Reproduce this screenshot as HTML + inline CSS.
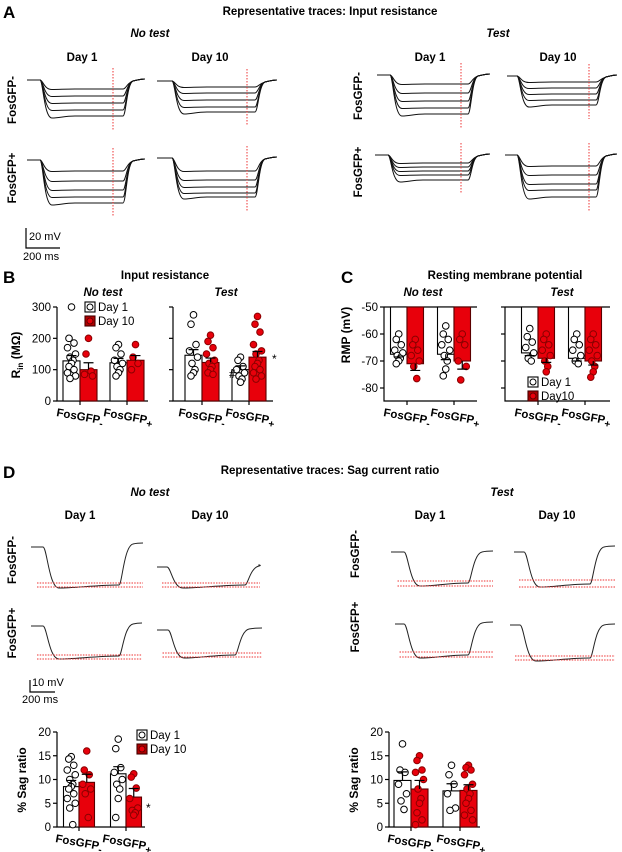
<!DOCTYPE html>
<html><head><meta charset="utf-8"><style>
html,body{margin:0;padding:0;background:#fff;}
svg{display:block;font-family:"Liberation Sans",Arial,sans-serif;}
</style></head><body>
<svg id="fig" width="622" height="852" viewBox="0 0 622 852" xmlns="http://www.w3.org/2000/svg">
<g font-weight="bold" fill="#000">
<text x="3" y="18" font-size="17">A</text>
<text x="330" y="15" font-size="11.5" text-anchor="middle">Representative traces: Input resistance</text>
<text x="150" y="37" font-size="11.5" font-style="italic" text-anchor="middle">No test</text>
<text x="498" y="37" font-size="11.5" font-style="italic" text-anchor="middle">Test</text>
<text x="82" y="61" font-size="11.5" text-anchor="middle">Day 1</text>
<text x="210" y="61" font-size="11.5" text-anchor="middle">Day 10</text>
<text x="430" y="61" font-size="11.5" text-anchor="middle">Day 1</text>
<text x="558" y="61" font-size="11.5" text-anchor="middle">Day 10</text>
<text transform="translate(16,100) rotate(-90)" font-size="11.5" text-anchor="middle">FosGFP-</text>
<text transform="translate(16,178) rotate(-90)" font-size="11.5" text-anchor="middle">FosGFP+</text>
<text transform="translate(362,96) rotate(-90)" font-size="11.5" text-anchor="middle">FosGFP-</text>
<text transform="translate(362,172) rotate(-90)" font-size="11.5" text-anchor="middle">FosGFP+</text>

<text x="3" y="283" font-size="17">B</text>
<text x="165" y="279" font-size="11.5" text-anchor="middle">Input resistance</text>
<text x="103" y="296" font-size="11.5" font-style="italic" text-anchor="middle">No test</text>
<text x="226" y="296" font-size="11.5" font-style="italic" text-anchor="middle">Test</text>

<text x="341" y="283" font-size="17">C</text>
<text x="505" y="279" font-size="11.5" text-anchor="middle">Resting membrane potential</text>
<text x="423" y="296" font-size="11.5" font-style="italic" text-anchor="middle">No test</text>
<text x="562" y="296" font-size="11.5" font-style="italic" text-anchor="middle">Test</text>

<text x="3" y="478" font-size="17">D</text>
<text x="330" y="474" font-size="11.5" text-anchor="middle">Representative traces: Sag current ratio</text>
<text x="150" y="496" font-size="11.5" font-style="italic" text-anchor="middle">No test</text>
<text x="502" y="496" font-size="11.5" font-style="italic" text-anchor="middle">Test</text>
<text x="80" y="519" font-size="11.5" text-anchor="middle">Day 1</text>
<text x="210" y="519" font-size="11.5" text-anchor="middle">Day 10</text>
<text x="430" y="519" font-size="11.5" text-anchor="middle">Day 1</text>
<text x="557" y="519" font-size="11.5" text-anchor="middle">Day 10</text>
<text transform="translate(16,560) rotate(-90)" font-size="11.5" text-anchor="middle">FosGFP-</text>
<text transform="translate(16,633) rotate(-90)" font-size="11.5" text-anchor="middle">FosGFP+</text>
<text transform="translate(359,554) rotate(-90)" font-size="11.5" text-anchor="middle">FosGFP-</text>
<text transform="translate(359,627) rotate(-90)" font-size="11.5" text-anchor="middle">FosGFP+</text>
</g>
<g font-size="11" fill="#000" stroke="none">
<path d="M26 228 V248 H60" stroke="#000" stroke-width="1.2" fill="none"/>
<text x="29" y="240">20 mV</text>
<text x="23" y="260">200 ms</text>
<path d="M30 680 V692 H55" stroke="#000" stroke-width="1.2" fill="none"/>
<text x="32" y="686">10 mV</text>
<text x="22" y="703">200 ms</text>
</g>
<g id="traces"></g>
<g id="charts"></g>
</svg>
<script>
// ---- Panel B data (MΩ) ----
const bNoTestMeans=[128,100,122,130];
const bNoTestErr=[17,22,14,15];
const bNoTestPts=[[300,200,185,170,150,140,130,120,110,100,90,80,72],[200,150,95,85,80],[180,170,150,130,120,110,100,90,80],[180,140,120,100]];
const bTestMeans=[146,123,100,140];
const bTestErr=[18,14,12,18];
const bTestPts=[[275,245,180,160,140,120,100,90,80],[210,190,170,150,130,120,110,100,90,85],[140,130,110,100,90,80,70,60],[270,245,220,180,160,150,130,120,110,100,90,80,70]];
const bTicks=[0,100,200,300];
// ---- Panel C data (mV) ----
const cNoTestMeans=[-67.5,-71,-67.5,-70];
const cNoTestErr=[1,2.5,2,3];
const cNoTestPts=[[-60,-62,-64,-66,-67,-68,-69,-70,-71],[-62,-64,-66,-68,-70,-72,-76.5],[-57,-60,-62,-64,-66,-68,-70,-73,-75.5],[-60,-62,-64,-70,-72,-77]];
const cTestMeans=[-67,-69,-69,-70];
const cTestErr=[1,1.5,1,1.5];
const cTestPts=[[-58,-61,-63,-65,-67,-69,-70],[-60,-62,-64,-66,-68,-70,-72,-74],[-60,-62,-64,-66,-68,-70,-71],[-60,-62,-64,-66,-68,-70,-72,-74,-76]];
const cTicks=[-50,-60,-70,-80];
// ---- Panel D data (% sag) ----
const dNoTestMeans=[8.5,9.4,11.2,6.3];
const dNoTestErr=[1.3,1.7,1.5,1.8];
const dNoTestPts=[[14.8,14.3,13,12,11,10,9,8.5,8,7,6,5,4,0.5],[16,12,11,9,8,7,2],[18.5,16.5,12.5,11.5,10,9,8,6,2],[11.2,10.5,8.2,6,4,3.5,3,2.5]];
const dTestMeans=[9.8,8.0,7.6,7.7];
const dTestErr=[1.8,1.8,1.5,1.2];
const dTestPts=[[17.5,12,11.5,9,7,5.5,3.7],[15,14,12,11.5,10,8,6,5,3,1.5,0.5],[13,11,9,7,4,3.5],[13,12.5,12,11,9,8,7,6,5,3.5,2.5,1.5]];
const dTicks=[0,5,10,15,20];
const groupLabels=["FosGFP","FosGFP"];
const groupSubs=["-","+"];

const NS="http://www.w3.org/2000/svg";
function mk(tag,attrs,parent){const e=document.createElementNS(NS,tag);for(const k in attrs)e.setAttribute(k,attrs[k]);parent.appendChild(e);return e;}
const charts=document.getElementById('charts');

function chart(o,means,errs,pts,ticks,nm){
  const g=mk('g',{},charts);
  
  
  const y=v=>o.y0-(v-o.v0)*o.k;
  const topY=Math.min(...ticks.map(y));
  const ax=mk('path',{d:`M${o.ax} ${topY} V${o.base} H${o.axEnd}`,stroke:'#000','stroke-width':1.2,fill:'none'},g);
  
  
  ticks.forEach(t=>{
    mk('line',{x1:o.ax-4,x2:o.ax,y1:y(t),y2:y(t),stroke:'#000','stroke-width':1.2},g);
    if(o.showTickLabels){
      const tx=mk('text',{x:o.ax-6,y:y(t)+4,'font-size':11.5,'text-anchor':'end'},g);
      tx.textContent=t;
      
      
    }
  });
  if(o.top!==undefined){mk('line',{x1:o.ax,x2:o.axEnd,y1:y(o.top),y2:y(o.top),stroke:'#000','stroke-width':1.2},g);}
  const bw=o.bw;
  means.forEach((m,i)=>{
    const grp=Math.floor(i/2), red=i%2===1;
    const x=o.gx[grp]+(red?0:-bw);
    const from=o.top!==undefined?y(o.top):o.base;
    const yt=Math.min(from,y(m)), h=Math.abs(y(m)-from);
    const r=mk('rect',{x:x,y:yt,width:bw,height:h,fill:red?'#e8000b':'#fff',stroke:red?'#5a0000':'#000','stroke-width':1.1},g);
    
    
    const cx=x+bw/2;
    pts[i].forEach((p,j)=>{
      const off=[0,-2.5,2.5,-4,4,-1.5,1.5][j%7];
      const c=mk('circle',{cx:cx+off,cy:y(p),r:3.3,fill:red?'#e8000b':'#fff',stroke:red?'#8a0000':'#000','stroke-width':1},g);
      
      
    });
    const dir=o.top!==undefined?-1:1;
    const ye=y(m+dir*errs[i]);
    const e=mk('path',{d:`M${cx} ${y(m)} V${ye} M${cx-5} ${ye} H${cx+5}`,stroke:'#000','stroke-width':1.2,fill:'none'},g);
    
    
  });
  o.gx.forEach((gx,k)=>{
    mk('line',{x1:gx,x2:gx,y1:o.base,y2:o.base+4,stroke:'#000','stroke-width':1.2},g);
    const t=mk('text',{transform:`translate(${gx-24},${o.base+15}) rotate(10)`,'font-size':11.5,'font-weight':'bold'},g);
    
    
    t.appendChild(document.createTextNode(groupLabels[k]));
    const s=mk('tspan',{dy:3,'font-size':10},t);s.textContent=groupSubs[k];
  });
  return g;
}
function legend(x,y,l1,l2,nm){
  const g=mk('g',{'font-size':11.5},charts);
  
  
  mk('rect',{x:x,y:y-5,width:10,height:10,fill:'#fff',stroke:'#000','stroke-width':1.1},g);
  mk('circle',{cx:x+5,cy:y,r:3,fill:'#fff',stroke:'#000'},g);
  mk('rect',{x:x,y:y+9,width:10,height:10,fill:'#b00000',stroke:'#400','stroke-width':1.1},g);
  mk('circle',{cx:x+5,cy:y+14,r:3,fill:'#e8000b',stroke:'#600'},g);
  const t1=mk('text',{x:x+13,y:y+4},g);t1.textContent=l1;
  const t2=mk('text',{x:x+13,y:y+18},g);t2.textContent=l2;
}
// B
chart({ax:57,axEnd:148,base:401,y0:401,v0:0,k:94/300,bw:17,gx:[80,127],showTickLabels:true},bNoTestMeans,bNoTestErr,bNoTestPts,bTicks,'b-no-test-chart');
chart({ax:173,axEnd:273,base:401,y0:401,v0:0,k:94/300,bw:17,gx:[202,249],showTickLabels:false},bTestMeans,bTestErr,bTestPts,bTicks,'b-test-chart');
legend(85,307,'Day 1','Day 10','b-legend');
// C
chart({ax:384,axEnd:477,base:401,y0:307,v0:-50,k:2.7,bw:16.5,gx:[407,454],top:-50,showTickLabels:true},cNoTestMeans,cNoTestErr,cNoTestPts,cTicks,'c-no-test-chart');
chart({ax:505,axEnd:610,base:401,y0:307,v0:-50,k:2.7,bw:16.5,gx:[538,585],top:-50,showTickLabels:false},cTestMeans,cTestErr,cTestPts,cTicks,'c-test-chart');
legend(528,382,'Day 1','Day10','c-legend');
// D
chart({ax:57,axEnd:145,base:827,y0:827,v0:0,k:95/20,bw:15.5,gx:[79,126],showTickLabels:true},dNoTestMeans,dNoTestErr,dNoTestPts,dTicks,'d-no-test-chart');
chart({ax:389,axEnd:480,base:827,y0:827,v0:0,k:95/20,bw:17,gx:[411,460],showTickLabels:true},dTestMeans,dTestErr,dTestPts,dTicks,'d-test-chart');
legend(137,735,'Day 1','Day 10','d-legend');
[['#',229,378,'hash-marker'],['*',272,363,'star-marker-b'],['*',146,812,'star-marker-d']].forEach(a=>{
  const t=mk('text',{x:a[1],y:a[2],'font-size':12},charts);t.textContent=a[0];
  
  
});
function ytitle(x,y,html,nm){
  const t=mk('text',{transform:`translate(${x},${y}) rotate(-90)`,'font-size':12,'font-weight':'bold','text-anchor':'middle'},charts);
  
  
  t.innerHTML=html;
}
ytitle(20,355,'R<tspan font-size="8" dy="3">in</tspan><tspan dy="-3"> (MΩ)</tspan>','b-y-axis-title');
ytitle(350,335,'RMP (mV)','c-y-axis-title');
ytitle(26,780,'% Sag ratio','d-y-axis-title-left');
ytitle(358,780,'% Sag ratio','d-y-axis-title-right');

// ---- traces ----
const tr=document.getElementById('traces');
function trace(x0,x1,base,lvl,stepX,endX,sag){
  let d=`M${x0} ${base} H${stepX} C${stepX+3} ${base} ${stepX+4} ${lvl+sag} ${stepX+12} ${lvl+sag} C${stepX+20} ${lvl+sag} ${stepX+24} ${lvl} ${stepX+35} ${lvl} H${endX} C${endX+3} ${lvl} ${endX+4} ${base+3} ${endX+10} ${base+1} C${endX+14} ${base} ${x1-4} ${base-1} ${x1} ${base-1}`;
  const p=mk('path',{d:d,stroke:'#111','stroke-width':1,fill:'none'},tr);
  
  
}
function family(x0,x1,base,levels,stepX,endX,redX,nm){
  levels.forEach((l,i)=>trace(x0,x1,base,l,stepX,endX,i===levels.length-1?2:0.5));
  const r=mk('line',{x1:redX,x2:redX,y1:base-12,y2:levels[levels.length-1]+14,stroke:'#e33','stroke-width':1,'stroke-dasharray':'1.5 1.5'},tr);
  
  
}
family(27,145,80,[89,96,103,110,116],40,123,113,'a-noTest-neg-d1');
family(157,277,81,[87,93,100,107,112],172,255,247,'a-noTest-neg-d10');
family(27,145,160,[171,181,190,197,203],40,123,113,'a-noTest-pos-d1');
family(157,277,158,[171,180,187,193,197],172,255,247,'a-noTest-pos-d10');
family(377,490,75,[84,93,101,108,114],390,468,461,'a-test-neg-d1');
family(507,617,76,[82,88,94,100,105],517,596,589,'a-test-neg-d10');
family(375,490,155,[163,167,171,175,180],388,468,461,'a-test-pos-d1');
family(505,617,155,[166,175,184,190,197],517,596,589,'a-test-pos-d10');
function sag(x0,x1,base,bottom,stepX,endX,endLvl,r1,r2,nm){
  const d=`M${x0} ${base} H${stepX} C${stepX+4} ${base} ${stepX+6} ${bottom+2} ${stepX+16} ${bottom+2} C${stepX+30} ${bottom+2} ${endX-20} ${bottom-1} ${endX} ${bottom-1} C${endX+3} ${bottom-1} ${endX+5} ${endLvl+3} ${endX+14} ${endLvl+1} C${endX+18} ${endLvl} ${x1-4} ${endLvl} ${x1} ${endLvl}`;
  const p=mk('path',{d:d,stroke:'#222','stroke-width':1,fill:'none'},tr);
  
  
  [r1,r2].forEach(ry=>{
    const l=mk('line',{x1:x0+(stepX-x0)*0.5,x2:x1,y1:ry,y2:ry,stroke:'#e33','stroke-width':0.9,'stroke-dasharray':'1.5 1.2'},tr);
    
    
  });
}
sag(31,143,547,586,43,119,543,583,587,'d-noTest-neg-d1');
sag(157,260,567,586,167,245,565,583,587,'d-noTest-neg-d10');
sag(31,142,626,657,43,119,623,655,659,'d-noTest-pos-d1');
sag(157,262,630,656,168,235,628,653,657,'d-noTest-pos-d10');
sag(391,493,552,584,404,468,551,581,586,'d-test-neg-d1');
sag(514,615,552,585,524,590,546,580,587,'d-test-neg-d10');
sag(395,493,624,656,404,468,622,652,657,'d-test-pos-d1');
sag(510,615,625,659,520,590,624,656,660,'d-test-pos-d10');
</script>
</body></html>
